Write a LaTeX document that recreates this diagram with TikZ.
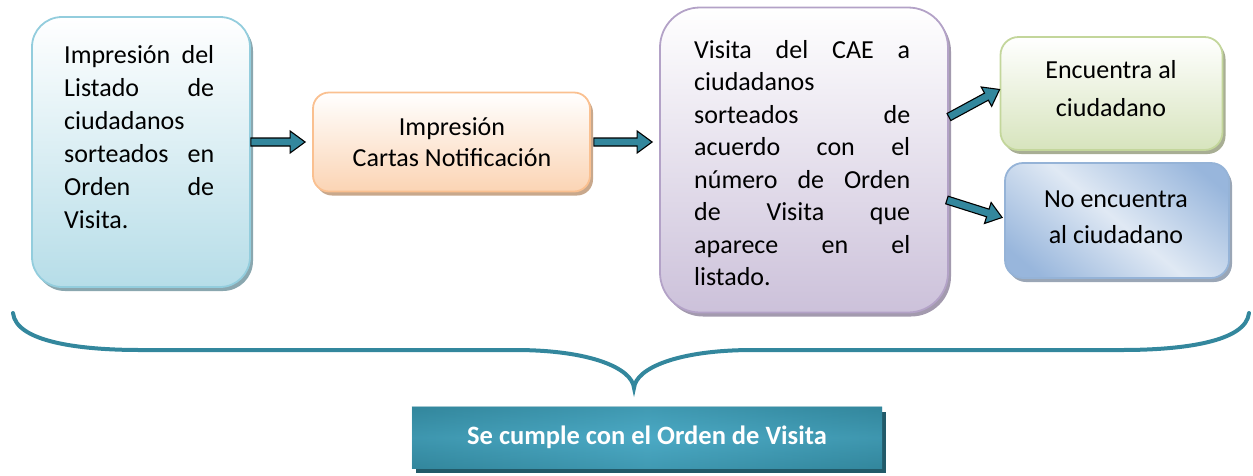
\documentclass[tikz,border=0pt]{standalone}
\usepackage{fontspec}
\setmainfont{Carlito}
\usetikzlibrary{calc,shadows}
\definecolor{tealA}{HTML}{33879D}
\definecolor{tealD}{HTML}{225A69}
\definecolor{tealL}{HTML}{4CAAC5}
\definecolor{bluB}{HTML}{B6DDE8}\definecolor{bluE}{HTML}{93CDDD}\definecolor{bluS}{HTML}{8AA7AF}
\definecolor{orB}{HTML}{FBD4B4}\definecolor{orE}{HTML}{FAC090}\definecolor{orS}{HTML}{C8A88C}
\definecolor{puB}{HTML}{CCC1DA}\definecolor{puE}{HTML}{B3A2C7}\definecolor{puS}{HTML}{A39AAE}
\definecolor{grB}{HTML}{D7E4BD}\definecolor{grE}{HTML}{C3D69B}\definecolor{grS}{HTML}{A8AE94}
\definecolor{nbD}{HTML}{98B6DC}\definecolor{nbL}{HTML}{E0E9F4}\definecolor{nbE}{HTML}{95B3D7}\definecolor{nbS}{HTML}{9AA6B6}
\pgfdeclareverticalshading{nbshade}{100bp}{color(0bp)=(nbD); color(22bp)=(nbD); color(50bp)=(nbL); color(78bp)=(nbD); color(100bp)=(nbD)}
\pgfdeclareverticalshading{tealv}{100bp}{color(0bp)=(tealA); color(25bp)=(tealA); color(50bp)=(tealL); color(75bp)=(tealA); color(100bp)=(tealA)}
\newcommand\myarrow[2]{%
  \coordinate (ta) at (#1); \coordinate (tb) at (#2);
  \coordinate (tc) at ($(tb)!15pt!(ta)$);
  \filldraw[barrow] ($(ta)!4pt!90:(tb)$) -- ($(tc)!4pt!90:(tb)$) -- ($(tc)!11pt!90:(tb)$) -- (tb)
    -- ($(tc)!11pt!-90:(tb)$) -- ($(tc)!4pt!-90:(tb)$) -- ($(ta)!4pt!-90:(tb)$) -- cycle;}
\begin{document}
\begin{tikzpicture}[x=1pt,y=-1pt,
  box/.style={draw, line width=1.8pt, inner sep=0pt},
  txt/.style={inner sep=0pt, font=\fontsize{26}{33}\selectfont},
  barrow/.style={fill=tealA, draw=black, line width=1.1pt, line join=miter},
  brace/.style={draw=tealA, line width=4pt, line cap=round}]
\useasboundingbox (0,0) rectangle (1253,475);
% boxes
\node[box, draw=bluE, top color=white, bottom color=bluB, rounded corners=30pt,
  minimum width=218pt, minimum height=270pt,
  drop shadow={shadow xshift=3pt,shadow yshift=-4pt,fill=bluS,opacity=1}] (b1) at (141,152) {};
\node[box, draw=orE, top color=white, bottom color=orB, rounded corners=16pt,
  minimum width=277pt, minimum height=99pt,
  drop shadow={shadow xshift=3pt,shadow yshift=-4pt,fill=orS,opacity=1}] (b2) at (451.5,142) {};
\node[box, draw=puE, top color=white, bottom color=puB, rounded corners=40pt,
  minimum width=288pt, minimum height=305pt,
  drop shadow={shadow xshift=3pt,shadow yshift=-4pt,fill=puS,opacity=1}] (b3) at (804,160) {};
\node[box, draw=grE, top color=white, bottom color=grB, rounded corners=18pt,
  minimum width=222pt, minimum height=113pt,
  drop shadow={shadow xshift=3pt,shadow yshift=-4pt,fill=grS,opacity=1}] (b4) at (1111.5,93.5) {};
\node[box, draw=nbE, shade, shading=nbshade, shading angle=-40, rounded corners=18pt,
  minimum width=224pt, minimum height=115pt,
  drop shadow={shadow xshift=3pt,shadow yshift=-4pt,fill=nbS,opacity=1}] (b5) at (1117,220.5) {};
% texts
\node[txt, text width=150pt, align=left, anchor=base west] (t1) at (64,63)
  {Impresión\hfill del\\ Listado\hfill de\\ ciudadanos\\ sorteados\hfill en\\ Orden\hfill de\\ Visita.};
\node[txt, align=center, anchor=base, font=\fontsize{26}{31}\selectfont] (t2) at (452,166)
  {Impresión\\ Cartas Notificación};
\node[txt, text width=216pt, align=left, anchor=base west, font=\fontsize{26}{32.5}\selectfont] (t3) at (694,58)
  {Visita\hfill del\hfill CAE\hfill a\\ ciudadanos\\ sorteados\hfill de\\ acuerdo\hfill con\hfill el\\ número\hfill de\hfill Orden\\ de\hfill Visita\hfill que\\ aparece\hfill en\hfill el\\ listado.};
\node[txt, align=center, anchor=base, font=\fontsize{26}{38}\selectfont] (t4) at (1111,116)
  {Encuentra al\\ ciudadano};
\node[txt, align=center, anchor=base, font=\fontsize{26}{36}\selectfont] (t5) at (1116,243)
  {No encuentra\\ al ciudadano};
% arrows
\myarrow{b1.east |- b2.west}{$(b2.west)+(-7,0)$}
\myarrow{$(b2.east)+(3,0)$}{$(b2.east -| b3.west)+(-7,0)$}
\myarrow{$(b3.east)+(0,-43)$}{$(b4.west)+(0,-4)$}
\myarrow{$(b3.east)+(-2,40)$}{$(b5.west)+(-2,-3)$}
% brace
\draw[brace] (13,313) .. controls (16,342) and (80,350) .. (140,350) -- (515,350)
  .. controls (590,350) and (632,368) .. (634,388)
  .. controls (636,368) and (678,350) .. (753,350) -- (1122,350)
  .. controls (1182,350) and (1246,342) .. (1249,313);
% bottom box
\coordinate (bbnw) at (412,407);
\coordinate (bbse) at (882,468);
\fill[tealD] ($(bbnw)+(4,5)$) rectangle ($(bbse)+(4,5)$);
\node[draw=none, inner sep=0pt, minimum width=470pt, minimum height=61pt,
  shade, shading=tealv, shading angle=-90] (bb) at (647,437.5) {};
\shade[shading=tealv, opacity=0.45] (bb.north west) rectangle (bb.south east);
\node[inner sep=0pt, text=white, font=\fontsize{26.5}{30}\selectfont\bfseries] (bt) at (bb.center) {Se cumple con el Orden de Visita};
\end{tikzpicture}
\end{document}
